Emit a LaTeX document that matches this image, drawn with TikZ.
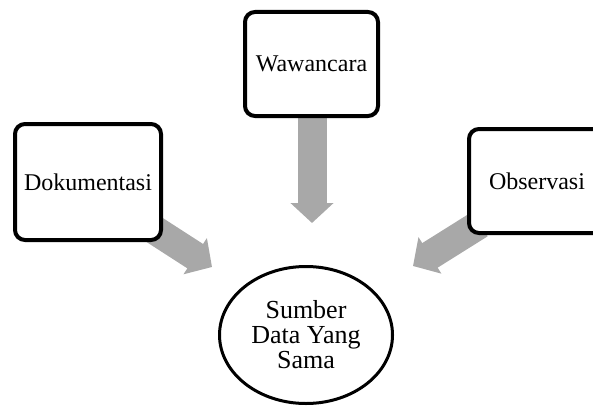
\documentclass[tikz,border=0pt]{standalone}
\usepackage{fontspec}
\setmainfont{Liberation Serif}
\usetikzlibrary{arrows.meta,shapes.geometric}
\definecolor{arrowgray}{RGB}{168,168,168}
\begin{document}
\begin{tikzpicture}[x=1pt,y=-1pt,
  box/.style={draw=black,line width=4pt,rounded corners=10pt,fill=white,
    inner sep=0pt,font=\fontsize{24}{27}\selectfont},
  blockarrow/.style={draw=arrowgray,line width=29pt,
    -{Triangle[width=42pt,length=20pt]}},
  oval/.style={draw=black,line width=3pt,ellipse,fill=white,inner sep=0pt,
    align=center,font=\fontsize{26}{25}\selectfont}]
\clip (0,0) rectangle (593,409);
% block arrows (drawn first, under the boxes)
\coordinate (tipD) at (212,267);
\coordinate (tipW) at (312,223);
\coordinate (tipO) at (413,266);
\coordinate (startD) at (150,227);
\coordinate (startW) at (312,100);
\coordinate (startO) at (480,224);
\draw[blockarrow] (startD) -- (tipD);
\draw[blockarrow] (startW) -- (tipW);
\draw[blockarrow] (startO) -- (tipO);
% boxes
\node[box,minimum width=146pt,minimum height=116pt] (dok) at (88,182) {Dokumentasi};
\node[box,minimum width=133pt,minimum height=104pt] (waw) at (311.5,64) {Wawancara};
\node[box,minimum width=136pt,minimum height=104pt] (obs) at (537,181) {Observasi};
\node[oval,minimum width=173pt,minimum height=137pt] (sum) at (306,335) {Sumber\\Data Yang\\Sama};
\end{tikzpicture}
\end{document}
